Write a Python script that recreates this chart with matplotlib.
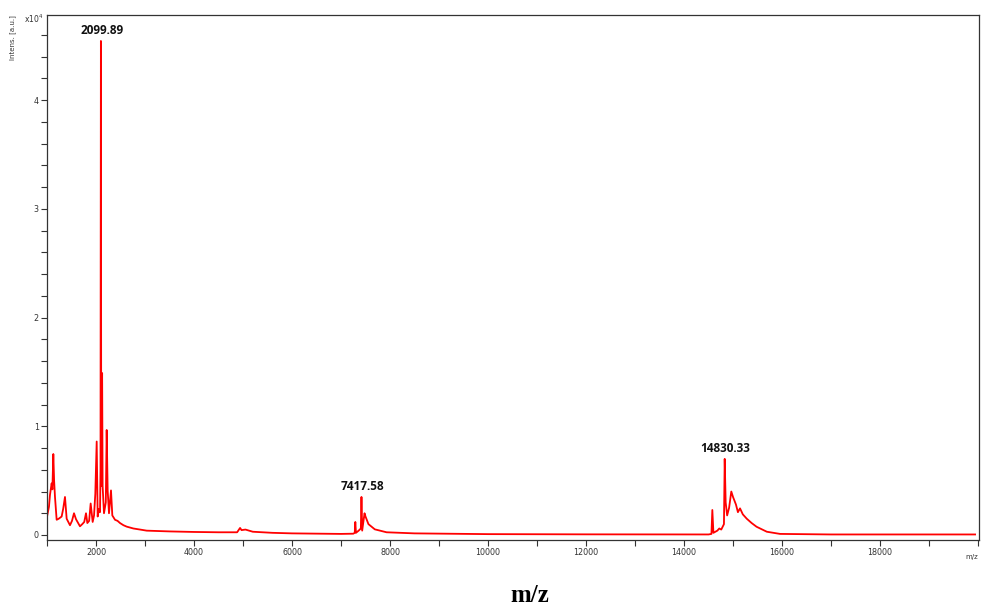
import matplotlib
matplotlib.use('Agg')
import matplotlib.pyplot as plt
from matplotlib.ticker import MultipleLocator

# spectrum: m/z and intensity (in units of 1e4 a.u.)
mz = [1005, 1014, 1040, 1061, 1095, 1110, 1129, 1145, 1163, 1197, 1240, 1299, 1330, 1367,
      1401, 1469, 1510, 1551, 1592, 1673, 1720, 1760, 1796, 1823, 1860, 1891, 1932, 1960,
      1986, 2014, 2034, 2060, 2082, 2092, 2099.89, 2106, 2115, 2125, 2135, 2163, 2200, 2218,
      2238, 2265, 2306, 2333, 2388, 2440, 2490, 2560, 2626, 2762, 2900, 3035, 3500, 4000,
      4500, 4880, 4940, 4970, 5050, 5200, 5600, 6000, 7000, 7250, 7280, 7292, 7305, 7360,
      7405, 7417.58, 7432, 7480, 7500, 7560, 7690, 7930, 8500, 10000, 12000, 14500, 14560,
      14578, 14600, 14680, 14720, 14760, 14815, 14830.33, 14850, 14880, 14920, 14965, 15000,
      15060, 15100, 15143, 15200, 15280, 15380, 15480, 15690, 15960, 17000, 19940]
intens = [0.18, 0.20, 0.26, 0.37, 0.475, 0.42, 0.745, 0.50, 0.35, 0.14, 0.15, 0.17, 0.24, 0.35,
          0.15, 0.09, 0.13, 0.20, 0.145, 0.08, 0.10, 0.12, 0.20, 0.11, 0.13, 0.29, 0.12, 0.18,
          0.38, 0.86, 0.17, 0.24, 0.21, 0.60, 4.545, 0.90, 0.45, 1.49, 0.45, 0.20, 0.30, 0.966,
          0.41, 0.20, 0.41, 0.18, 0.14, 0.13, 0.11, 0.09, 0.077, 0.06, 0.05, 0.04, 0.033, 0.028,
          0.025, 0.025, 0.065, 0.045, 0.05, 0.03, 0.02, 0.015, 0.01, 0.012, 0.02, 0.12, 0.02, 0.04,
          0.06, 0.35, 0.04, 0.20, 0.17, 0.10, 0.052, 0.025, 0.015, 0.008, 0.006, 0.005, 0.01,
          0.23, 0.02, 0.04, 0.06, 0.05, 0.10, 0.70, 0.30, 0.18, 0.25, 0.40, 0.35,
          0.28, 0.21, 0.245, 0.19, 0.15, 0.11, 0.076, 0.03, 0.01, 0.005, 0.005]

peak_labels = ['2099.89', '7417.58', '14830.33']
peak_mz = [2099.89, 7417.58, 14830.33]
peak_int = [4.545, 0.35, 0.70]

fig = plt.figure(figsize=(9.81, 6.08), dpi=100)
ax = fig.add_axes([47/981, 1-540/608, (979-47)/981, (540-15)/608])

ax.plot(mz, intens, color='#ff0000', lw=1.3)

for lab, x, y in zip(peak_labels, peak_mz, peak_int):
    ax.annotate(lab, (x, y), xytext=(1, 4), textcoords='offset pixels',
                ha='center', va='bottom', fontsize=8.5, fontweight='bold',
                family='Open Sans', color='#111111')

ax.set_xlim(1000, 20020)
ax.set_ylim(-0.046, 4.784)
ax.xaxis.set_minor_locator(MultipleLocator(1000))
ax.yaxis.set_major_locator(MultipleLocator(1))
ax.yaxis.set_minor_locator(MultipleLocator(0.2))
ax.set_xticks([2000, 4000, 6000, 8000, 10000, 12000, 14000, 16000, 18000])
ax.tick_params(which='both', direction='out', colors='#333333', labelsize=5.8,
               width=0.8, pad=2)
ax.tick_params(which='major', length=4)
ax.tick_params(which='minor', length=4)
for s in ax.spines.values():
    s.set_color('#333333')
    s.set_linewidth(0.9)

fig.text(13/981, 1-38/608, 'Intens. [a.u.]', rotation=90, ha='center', va='center',
         fontsize=5, color='#333333')
fig.text(24/981, 1-19/608, r'x10$^4$', ha='left', va='center', fontsize=5.5, color='#333333')
fig.text(972/981, 1-557/608, 'm/z', ha='center', va='center', fontsize=5, color='#333333')
fig.text(530/981, 1-595/608, 'm/z', ha='center', va='center', fontsize=18,
         fontweight='bold', family='Liberation Serif')

fig.savefig('out.png', dpi=100)
